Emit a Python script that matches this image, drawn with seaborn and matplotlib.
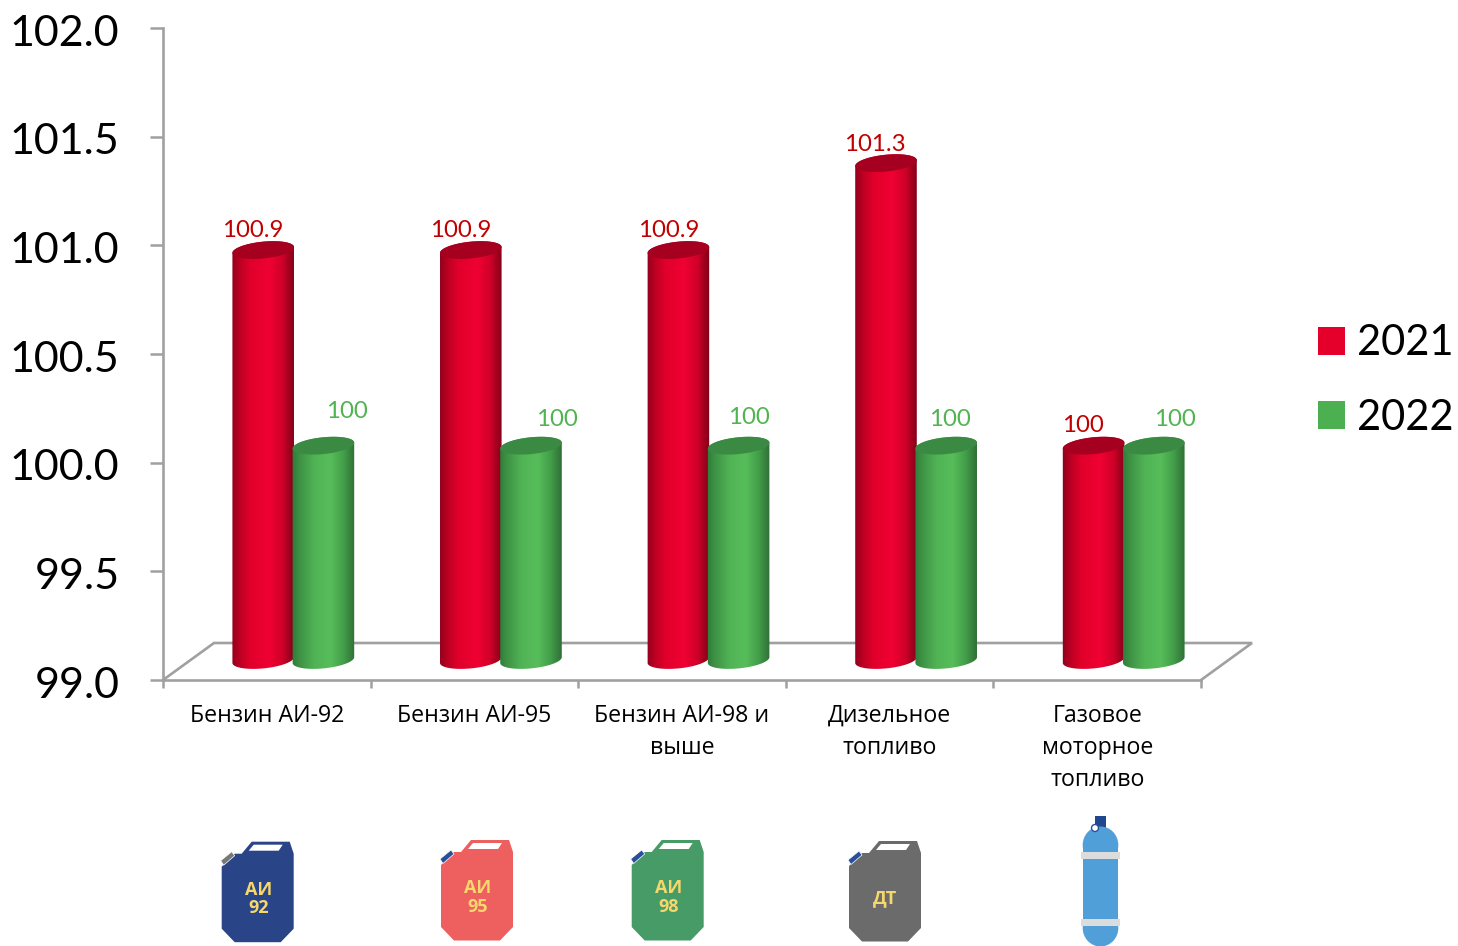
import numpy as np
import pandas as pd
import matplotlib.pyplot as plt
import seaborn as sns
from matplotlib.colors import LinearSegmentedColormap
from matplotlib.patches import Ellipse, Polygon, Rectangle, Circle
from matplotlib.transforms import ScaledTranslation

W, H = 1458, 946
DPI = 100

categories = ["Бензин АИ-92", "Бензин АИ-95", "Бензин АИ-98 и\nвыше",
              "Дизельное\nтопливо", "Газовое\nмоторное\nтопливо"]
values_2021 = [100.9, 100.9, 100.9, 101.3, 100]
values_2022 = [100, 100, 100, 100, 100]
y_ticks = [99.0, 99.5, 100.0, 100.5, 101.0, 101.5, 102.0]

# label nudges from the top of each cylinder, in pixels
nudge_2021 = [(-10, -20), (-10, -20), (-10, -20), (-11, -19), (-11, -20)]
nudge_2022 = [(24, -34), (26, -26), (10, -28), (4, -26), (21, -26)]

GREY = "#a0a0a0"
RED = "#e4002b"
GREEN = "#4caf50"

sns.set_theme(style="white")
plt.rcParams["font.family"] = ["Lato", "Open Sans", "DejaVu Sans"]

df = pd.DataFrame({
    "fuel": categories * 2,
    "value": values_2021 + values_2022,
    "year": ["2021"] * 5 + ["2022"] * 5,
})

fig = plt.figure(figsize=(W / DPI, H / DPI), dpi=DPI)
ax = fig.add_axes([163 / W, 1 - 680 / H, (1201 - 163) / W, (680 - 28) / H])

sns.barplot(data=df, x="fuel", y="value", hue="year", palette=[RED, GREEN],
            width=0.58, gap=0, errorbar=None, saturation=1, ax=ax, linewidth=0)

ax.set_ylim(99, 102)
ax.set_xlim(-0.5, 4.5)
ax.set_xlabel("")
ax.set_ylabel("")
ax.set_yticks(y_ticks)
ax.set_yticklabels([f"{t:.1f}" for t in y_ticks], fontsize=31, color="black")
ax.tick_params(axis="y", length=9.4, width=1.8, color=GREY, pad=22, left=True)
for lab in ax.get_yticklabels():
    lab.set_transform(lab.get_transform() + ScaledTranslation(0, -2 / DPI, fig.dpi_scale_trans))
ax.set_xticks(range(5))
ax.set_xticklabels(categories, fontsize=16.7, family="Open Sans", color="black", linespacing=1.46)
ax.set_xticks(np.arange(-0.5, 5), minor=True)
ax.tick_params(axis="x", which="major", length=0, pad=17)
ax.tick_params(axis="x", which="minor", length=6, width=1.8, color=GREY, bottom=True)
for side in ["top", "right"]:
    ax.spines[side].set_visible(False)
for side in ["left", "bottom"]:
    ax.spines[side].set_color(GREY)
    ax.spines[side].set_linewidth(1.9)

sns.move_legend(ax, "center left", bbox_to_anchor=(1318 / W, 1 - 380.5 / H),
                bbox_transform=fig.transFigure, title=None, frameon=False,
                fontsize=30, handlelength=0.65, handleheight=0.65,
                handletextpad=0.29, labelspacing=0.87, borderpad=0, borderaxespad=0,
                labelcolor="black")

# pixel-space layer for the pseudo-3D parts
over = fig.add_axes([0, 0, 1, 1], zorder=5)
over.set_xlim(0, W)
over.set_ylim(H, 0)
over.axis("off")
over.patch.set_alpha(0)

over.plot([163, 214, 1252, 1201], [680, 643, 643, 680], color=GREY, lw=1.9, zorder=1,
          solid_joinstyle="miter")

red_map = LinearSegmentedColormap.from_list(
    "r", [(0, "#8a001c"), (0.12, "#b80022"), (0.3, "#e0002a"), (0.6, "#f00034"),
          (0.8, "#d00028"), (1, "#7e0018")])
green_map = LinearSegmentedColormap.from_list(
    "g", [(0, "#2f7a3a"), (0.14, "#3f9546"), (0.35, "#50b355"), (0.6, "#57bd5a"),
          (0.8, "#44a04a"), (1, "#2e6b35")])
gradient = np.linspace(0, 1, 256).reshape(1, -1)

TILT = np.deg2rad(5)
CAP_H = 8.5
DROP = 20  # pixels the cylinders sit above the axis line at the 99 level
SHIFT = 26


def ring(cx, cy, a, t):
    x = cx + a * np.cos(t) * np.cos(TILT) - CAP_H * np.sin(t) * np.sin(TILT)
    y = cy - a * np.cos(t) * np.sin(TILT) + CAP_H * np.sin(t) * np.cos(TILT)
    return np.column_stack([x, y])


def cylinder(bar, cmap, cap_color, z):
    # geometry comes from the bar seaborn placed, moved on to the 3D floor
    x0, y1 = ax.transData.transform((bar.get_x(), bar.get_height()))
    x1, y0 = ax.transData.transform((bar.get_x() + bar.get_width(), 99))
    x0, x1 = x0 + SHIFT, x1 + SHIFT
    top = H - y1 - DROP + 3
    bottom = H - y0 - DROP
    cx, a = (x0 + x1) / 2 + 0.5, (x1 - x0) / 2 + 0.8
    low = ring(cx, bottom, a, np.linspace(0, np.pi, 60))
    up = ring(cx, top, a, np.linspace(np.pi, 2 * np.pi, 60))
    body = Polygon(np.vstack([low, up]), closed=True, transform=over.transData,
                   fc="none", ec="none")
    over.add_patch(body)
    img = over.imshow(gradient, extent=[cx - a - 1, cx + a + 1, bottom + 15, top - 15],
                      aspect="auto", cmap=cmap, interpolation="bilinear", zorder=z)
    img.set_clip_path(body)
    over.add_patch(Polygon(ring(cx, top, a, np.linspace(0, 2 * np.pi, 90)),
                           closed=True, fc=cap_color, ec="none", zorder=z + 0.1))
    return cx, top


red_bars, green_bars = ax.containers[0], ax.containers[1]

for i, bar in enumerate(red_bars):
    cx, top = cylinder(bar, red_map, "#a5001f", 2)
    over.text(cx + nudge_2021[i][0], top + nudge_2021[i][1], f"{values_2021[i]:g}",
              color="#c00000", fontsize=17.3, ha="center", va="center", zorder=6)
for i, bar in enumerate(green_bars):
    cx, top = cylinder(bar, green_map, "#3b8a43", 3)
    over.text(cx + nudge_2022[i][0], top + nudge_2022[i][1], f"{values_2022[i]:g}",
              color="#50b450", fontsize=17.3, ha="center", va="center", zorder=6)

# seaborn's flat bars stay as a base under the cylinders
for bars in (red_bars, green_bars):
    for bar in bars:
        h = bar.get_height()
        cx = bar.get_x() + bar.get_width() / 2
        bar.set_y(99)
        bar.set_height(h - 99)
        bar.set_x(cx - bar.get_width() * 0.4)
        bar.set_width(bar.get_width() * 0.8)
        bar.set_transform(ax.transData + ScaledTranslation(SHIFT / DPI, (DROP - 3) / DPI,
                                                           fig.dpi_scale_trans))

CAN_BODY = [(0, 25), (13, 12), (20, 12), (30, 0), (68, 0), (72, 12), (72, 87),
            (59, 100.5), (13, 100.5), (0, 87)]
CAN_GRIP = [(27, 9), (32, 3), (61, 3), (57, 9)]
CAN_CAP = [(-1, 19), (10, 10), (13, 14), (2, 23.5)]


def canister(x, y, color, cap, lines):
    shift = lambda pts: [(x + px, y + py) for px, py in pts]
    over.add_patch(Polygon(shift(CAN_BODY), fc=color, ec="none", zorder=2))
    over.add_patch(Polygon(shift(CAN_CAP), fc=cap, ec="white", lw=0.5, zorder=3))
    over.add_patch(Polygon(shift(CAN_GRIP), fc="white", ec="none", zorder=3))
    rows = [57] if len(lines) == 1 else [48, 66.5]
    for text, row in zip(lines, rows):
        over.text(x + 36.5, y + row, text, color="#f6d76b", fontsize=13, weight="bold",
                  family="Open Sans", ha="center", va="center", zorder=4)


canister(221.7, 841.7, "#2a4488", "#777777", ["АИ", "92"])
canister(441, 840, "#ee6060", "#2a4f9a", ["АИ", "95"])
canister(631.7, 840, "#479b67", "#2a4f9a", ["АИ", "98"])
canister(849, 841, "#6b6b6b", "#2a4f9a", ["ДТ"])

# gas bottle
over.add_patch(Rectangle((1095, 816), 11, 12, fc="#1f4690", ec="none", zorder=2))
over.add_patch(Ellipse((1100.5, 845), 35.6, 37, fc="#519fd8", ec="none", zorder=2))
over.add_patch(Rectangle((1082.7, 845), 35.6, 83, fc="#519fd8", ec="none", zorder=2))
over.add_patch(Ellipse((1100.5, 928), 35.6, 37, fc="#519fd8", ec="none", zorder=2))
over.add_patch(Rectangle((1081, 852), 39, 7, fc="#dcdcdc", ec="none", zorder=3))
over.add_patch(Rectangle((1081, 919), 39, 7, fc="#dcdcdc", ec="none", zorder=3))
over.add_patch(Circle((1095, 828), 3.5, fc="white", ec="#2a4f9a", lw=1, zorder=4))

fig.savefig("out.png", dpi=DPI)
